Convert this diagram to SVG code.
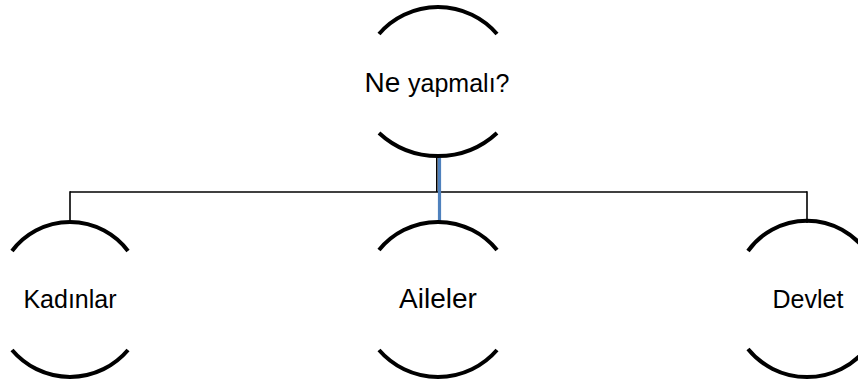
<svg xmlns="http://www.w3.org/2000/svg" width="858" height="383" viewBox="0 0 858 383">
<style>
.arc{fill:none;stroke:#000;stroke-width:4;}
.ln{fill:none;stroke:#000;stroke-width:1.6;}
.t{font-family:"Liberation Sans",Arial,sans-serif;fill:#000;text-anchor:middle;}
</style>
<rect width="858" height="383" fill="#fff"/>
<g id="connectors">
<line class="ln" x1="70" y1="192" x2="807" y2="192"/>
<line class="ln" x1="70" y1="191.2" x2="70" y2="222"/>
<line class="ln" x1="807" y1="191.2" x2="807" y2="223"/>
<line class="ln" x1="436.8" y1="155" x2="436.8" y2="192" stroke-width="2"/>
<line x1="439.5" y1="158" x2="439.5" y2="222" stroke="#4F81BD" stroke-width="3.2"/>
</g>
<g id="node-top">
<path class="arc" d="M379,34 A78,78 0 0 1 497,34"/>
<path class="arc" d="M379,133 A87,87 0 0 0 497,133"/>
<text class="t" x="437" y="92"><tspan font-size="28">Ne </tspan><tspan font-size="25">yapmalı?</tspan></text>
</g>
<g id="node-kadinlar">
<path class="arc" d="M12,251 A72.5,72.5 0 0 1 128,251"/>
<path class="arc" d="M12,350 A76,76 0 0 0 128,350"/>
<text class="t" x="70" y="308" font-size="25">Kadınlar</text>
</g>
<g id="node-aileler">
<path class="arc" d="M379,250 A76,76 0 0 1 497,250"/>
<path class="arc" d="M379,350 A78,78 0 0 0 497,350"/>
<text class="t" x="438" y="308" font-size="28">Aileler</text>
</g>
<g id="node-devlet">
<path class="arc" d="M748,251 A72.5,72.5 0 0 1 866,251"/>
<path class="arc" d="M748,349 A76,76 0 0 0 866,349"/>
<text class="t" x="808" y="308" font-size="25">Devlet</text>
</g>
</svg>
